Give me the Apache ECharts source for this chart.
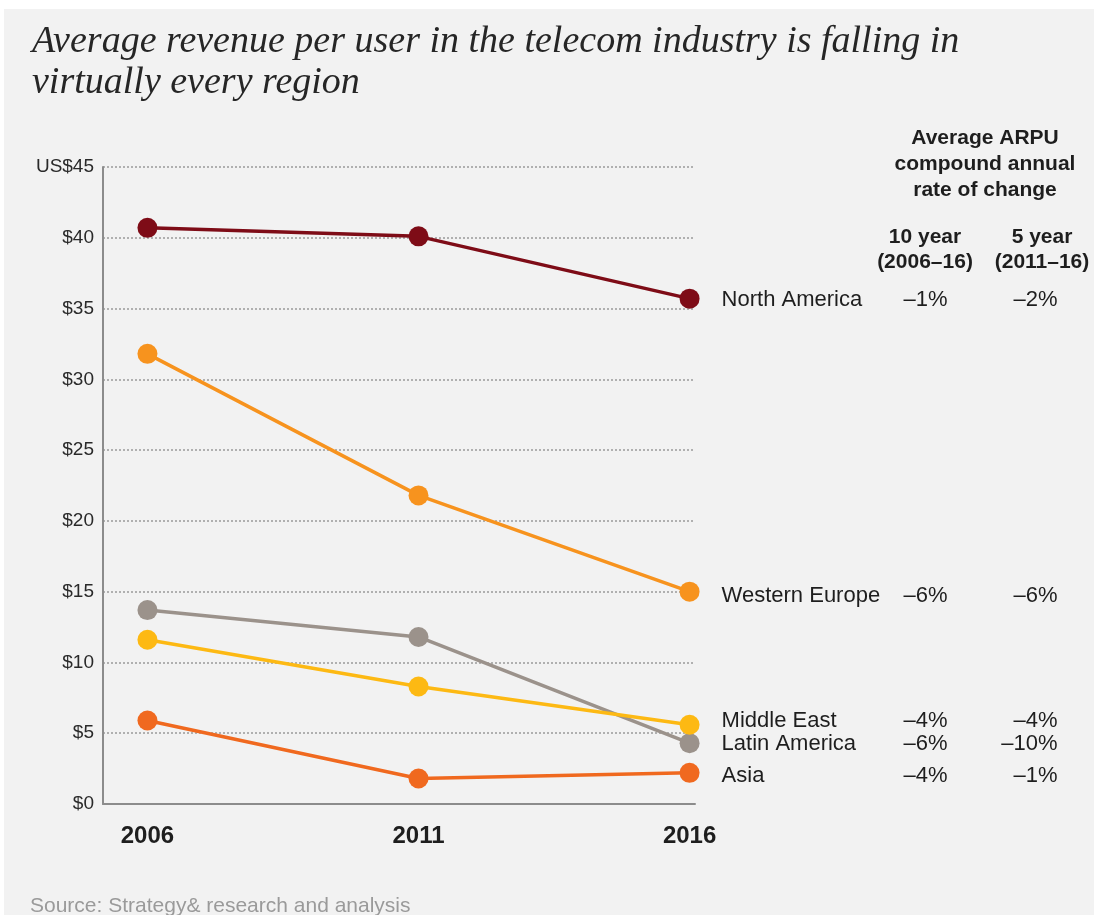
<!DOCTYPE html>
<html>
<head>
<meta charset="utf-8">
<title>ARPU by region</title>
<script src="https://cdn.jsdelivr.net/npm/echarts@6/dist/echarts.min.js"></script>
<style>
  html, body { margin: 0; padding: 0; background: #ffffff; }
  #chart { width: 1094px; height: 915px; }
</style>
</head>
<body>
<div id="chart"></div>
<script>
// Years on the horizontal axis
const years = [2006, 2011, 2016];

// ARPU in US$ per region
const regions = ['North America', 'Western Europe', 'Middle East', 'Latin America', 'Asia'];
const northAmerica = [40.7, 40.1, 35.7];
const westernEurope = [31.8, 21.8, 15.0];
const middleEast = [11.6, 8.3, 5.6];
const latinAmerica = [13.7, 11.8, 4.3];
const asia = [5.9, 1.8, 2.2];

// Compound annual rate of change, 10 year (2006–16) and 5 year (2011–16)
const rate10 = ['–1%', '–6%', '–4%', '–6%', '–4%'];
const rate5 = ['–2%', '–6%', '–4%', '–10%', '–1%'];

// Y axis ticks
const yTicks = [0, 5, 10, 15, 20, 25, 30, 35, 40, 45];

const colors = ['#7e0c17', '#f7931e', '#fdb913', '#9b928b', '#f0691f'];
const values = [northAmerica, westernEurope, middleEast, latinAmerica, asia];
// vertical nudges keep the crowded end labels apart
const labelNudge = [1, 4, -4, 1, 3];

const sans = '"Liberation Sans", Arial, Helvetica, sans-serif';
const ink = '#1e1e1e';

const chart = echarts.init(document.getElementById('chart'), null, { renderer: 'canvas' });

const series = regions.map((name, i) => ({
  name: name,
  type: 'line',
  data: years.map((y, j) => {
    const point = { value: [y, values[i][j]] };
    if (j === years.length - 1) {
      point.label = {
        show: true,
        position: 'right',
        distance: 22,
        offset: [0, labelNudge[i]],
        formatter: '{n|' + name + '}{a|' + rate10[i] + '}{b|' + rate5[i] + '}',
        rich: {
          n: { width: 170, align: 'left', fontSize: 22, color: ink, fontFamily: sans },
          a: { width: 56, align: 'right', fontSize: 22, color: ink, fontFamily: sans },
          b: { width: 110, align: 'right', fontSize: 22, color: ink, fontFamily: sans }
        }
      };
    }
    return point;
  }),
  symbol: 'circle',
  symbolSize: 20,
  lineStyle: { width: 3.5, color: colors[i] },
  itemStyle: { color: colors[i] },
  emphasis: { disabled: true },
  z: 10 - i
}));

const headerFont = 'bold 21px ' + sans;

chart.setOption({
  animation: false,
  backgroundColor: '#ffffff',
  title: {
    text: 'Average revenue per user in the telecom industry is falling in\nvirtually every region',
    left: 27,
    top: 17,
    textStyle: {
      fontFamily: '"Liberation Serif", "DejaVu Serif", serif',
      fontStyle: 'italic',
      fontWeight: 'normal',
      fontSize: 38,
      lineHeight: 41,
      color: '#262626'
    }
  },
  graphic: [
    {
      type: 'rect',
      z: -10,
      silent: true,
      shape: { x: 4, y: 9, width: 1090, height: 906 },
      style: { fill: '#f2f2f2' }
    },
    {
      type: 'text',
      x: 985, y: 125,
      style: {
        text: 'Average ARPU\ncompound annual\nrate of change',
        align: 'center',
        verticalAlign: 'top',
        font: headerFont,
        lineHeight: 26,
        fill: ink
      }
    },
    {
      type: 'text',
      x: 925, y: 225,
      style: {
        text: '10 year\n(2006–16)',
        align: 'center',
        verticalAlign: 'top',
        font: headerFont,
        lineHeight: 25,
        fill: ink
      }
    },
    {
      type: 'text',
      x: 1042, y: 225,
      style: {
        text: '5 year\n(2011–16)',
        align: 'center',
        verticalAlign: 'top',
        font: headerFont,
        lineHeight: 25,
        fill: ink
      }
    },
    {
      type: 'text',
      x: 30, y: 896,
      style: {
        text: 'Source: Strategy& research and analysis',
        verticalAlign: 'top',
        font: '21px ' + sans,
        fill: '#9a9a9a'
      }
    }
  ],
  grid: {
    left: 103,
    top: 167,
    width: 592,
    height: 637,
    containLabel: false
  },
  xAxis: {
    type: 'value',
    min: 2005.18,
    max: 2016.1,
    splitLine: { show: false },
    axisLine: { show: true, onZero: false, lineStyle: { color: '#8c8c8c', width: 2 } },
    axisTick: { show: false },
    axisLabel: {
      customValues: years,
      margin: 20,
      fontFamily: sans,
      fontSize: 24,
      fontWeight: 'bold',
      color: ink,
      formatter: v => String(v)
    }
  },
  yAxis: {
    type: 'value',
    min: 0,
    max: 45,
    interval: 5,
    axisLine: { show: true, lineStyle: { color: '#8c8c8c', width: 2 } },
    axisTick: { show: false },
    splitLine: {
      show: true,
      lineStyle: { color: '#b0b0b0', type: [2, 2], width: 2 }
    },
    axisLabel: {
      margin: 9,
      fontFamily: sans,
      fontSize: 19,
      color: '#2a2a2a',
      formatter: v => (v === yTicks[yTicks.length - 1] ? 'US$' + v : '$' + v)
    }
  },
  series: series
});
</script>
</body>
</html>
